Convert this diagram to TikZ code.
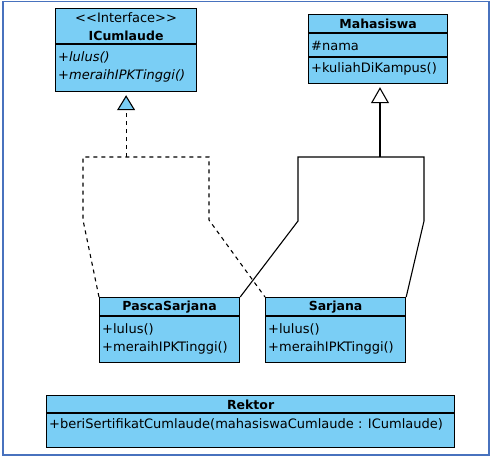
\documentclass[tikz,border=0pt]{standalone}
\usepackage{fontspec}
\newfontfamily\umlfont{DejaVu Sans}
\usetikzlibrary{arrows.meta}
\definecolor{umlblue}{RGB}{122,206,245}
\definecolor{frameblue}{RGB}{72,114,190}
\tikzset{
  classbox/.style={draw=black,line width=1.2pt,fill=umlblue,anchor=north west,inner sep=0pt},
  classname/.style={inner sep=0pt,font=\umlfont\fontsize{12.5}{14}\selectfont\bfseries},
  member/.style={anchor=west,inner sep=0pt,font=\umlfont\fontsize{13}{15}\selectfont},
  realize/.style={line width=1.1pt,dash pattern=on 4pt off 4pt},
  inherit/.style={line width=1.1pt},
}
\begin{document}
\begin{tikzpicture}[x=1pt,y=-1pt,line join=miter]
  \useasboundingbox (0,0) rectangle (491,461);
  \draw[frameblue,line width=1.3pt] (3,1.5) rectangle (489,455);
  % class boxes
  \node[classbox,minimum width=141pt,minimum height=83pt] (icum) at (55,8) {};
  \node[classbox,minimum width=139pt,minimum height=69pt] (mhs) at (308,14) {};
  \node[classbox,minimum width=140pt,minimum height=65pt] (ps) at (99,297) {};
  \node[classbox,minimum width=140pt,minimum height=65pt] (sj) at (265,297) {};
  \node[classbox,minimum width=408pt,minimum height=52pt] (rek) at (46,395) {};
  % compartments
  \draw[line width=1.2pt] (icum.west |- 0,44) -- (icum.east |- 0,44);
  \draw[line width=1.2pt] (mhs.west |- 0,33) -- (mhs.east |- 0,33);
  \draw[line width=1.2pt] (mhs.west |- 0,57) -- (mhs.east |- 0,57);
  \draw[line width=1.2pt] (ps.west |- 0,316) -- (ps.east |- 0,316);
  \draw[line width=1.2pt] (sj.west |- 0,316) -- (sj.east |- 0,316);
  \draw[line width=1.2pt] (rek.west |- 0,413) -- (rek.east |- 0,413);
  % texts
  \node[member,anchor=center] (icumst) at (icum.north |- 0,18) {<{}<Interface>{}>};
  \node[classname] (icumname) at (icum.north |- 0,36) {ICumlaude};
  \node[member] (icumop1) at ([xshift=3pt]icum.west |- 0,57) {\itshape +lulus()};
  \node[member] (icumop2) at ([xshift=3pt]icum.west |- 0,76) {\itshape +meraihIPKTinggi()};
  \node[classname] (mhsname) at (mhs.north |- 0,24) {Mahasiswa};
  \node[member] (mhsattr) at ([xshift=3pt]mhs.west |- 0,46) {\#nama};
  \node[member] (mhsop) at ([xshift=3pt]mhs.west |- 0,69) {+kuliahDiKampus()};
  \node[classname] (psname) at (ps.north |- 0,307) {PascaSarjana};
  \node[member] (psop1) at ([xshift=3pt]ps.west |- 0,329) {+lulus()};
  \node[member] (psop2) at ([xshift=3pt]ps.west |- 0,348) {+meraihIPKTinggi()};
  \node[classname] (sjname) at (sj.north |- 0,307) {Sarjana};
  \node[member] (sjop1) at ([xshift=3pt]sj.west |- 0,329) {+lulus()};
  \node[member] (sjop2) at ([xshift=3pt]sj.west |- 0,348) {+meraihIPKTinggi()};
  \node[classname] (rekname) at (rek.north |- 0,405) {Rektor};
  \node[member] (rekop) at ([xshift=3pt]rek.west |- 0,424) {+beriSertifikatCumlaude(mahasiswaCumlaude : ICumlaude)};
  % realization
  \coordinate (ijoin) at (icum.south |- 0,157);
  \draw[realize,-{Triangle[open,fill=umlblue,length=15pt,width=18pt,line width=1.1pt]},shorten >=3pt]
    (ijoin) -- (icum.south);
  \draw[realize] (ps.north west) -- (83,220) -- (83,157) -- (209,157) -- (209,220) -- (sj.north west);
  % generalization
  \coordinate (mjoin) at (380,157);
  \draw[inherit,-{Triangle[open,fill=white,length=16pt,width=18pt,line width=1.1pt]},shorten >=3pt]
    (mjoin) -- (mjoin |- mhs.south);
  \draw[inherit] (ps.north east) -- (298,221) -- (298,157) -- (424,157) -- (424,221) -- (sj.north east);
\end{tikzpicture}
\end{document}
